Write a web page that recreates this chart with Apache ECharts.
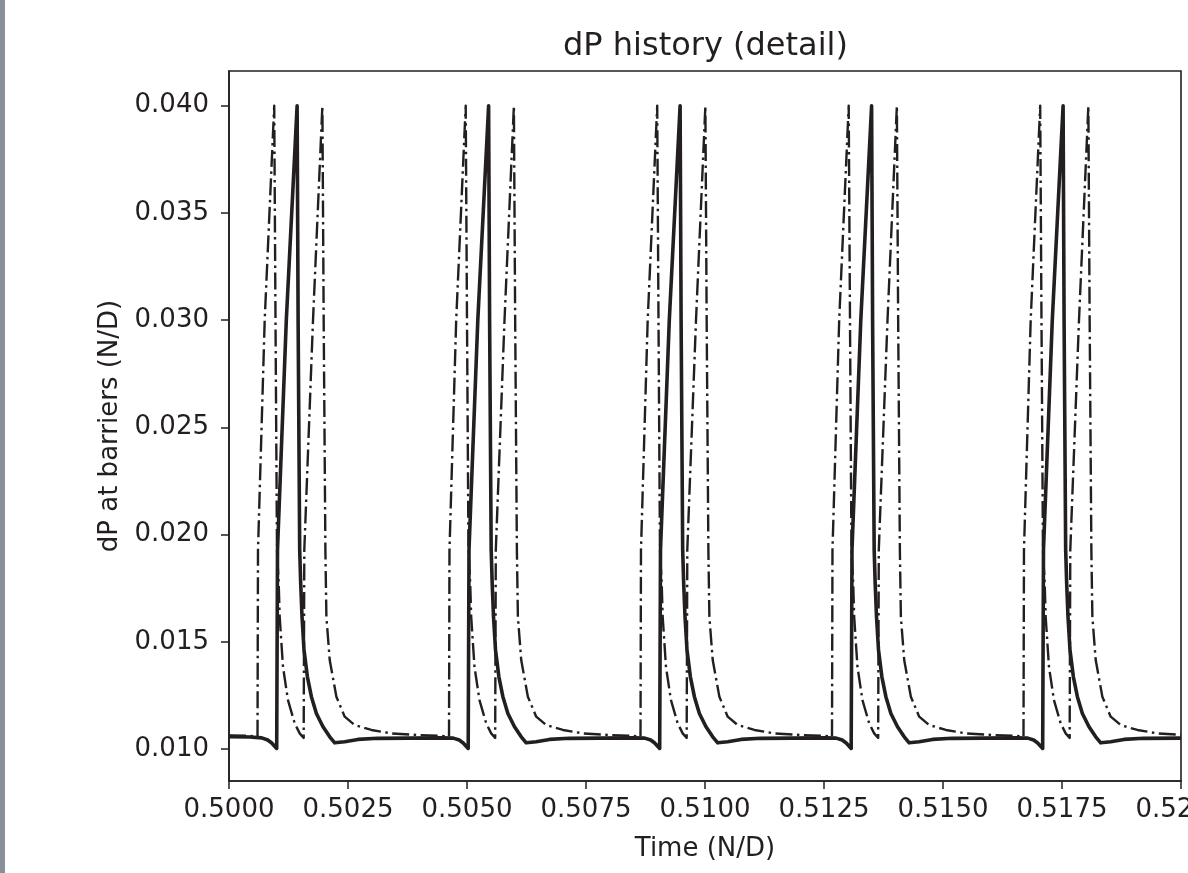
<!DOCTYPE html>
<html>
<head>
<meta charset="utf-8">
<title>dP history (detail)</title>
<script src="https://cdn.jsdelivr.net/npm/echarts@6/dist/echarts.min.js"></script>
<style>
  html, body { margin: 0; padding: 0; background: #fff; }
  #chart { width: 1188px; height: 873px; }
</style>
</head>
<body>
<div id="chart"></div>
<script>
// tick labels
const xTicks = [0.5000, 0.5025, 0.5050, 0.5075, 0.5100, 0.5125, 0.5150, 0.5175, 0.5200];
const yTicks = [0.010, 0.015, 0.020, 0.025, 0.030, 0.035, 0.040];

// solid curve (one line per spike)
const solidTime = [
  0.500000,
  0.500435, 0.500687, 0.500813, 0.500897, 0.501002, 0.501019, 0.501204, 0.501431, 0.501452, 0.501485, 0.501506, 0.501534, 0.501576, 0.501647, 0.501731, 0.501836, 0.501975, 0.502116, 0.502221, 0.502431, 0.502710, 0.503124,
  0.504458, 0.504710, 0.504836, 0.504920, 0.505025, 0.505042, 0.505227, 0.505454, 0.505475, 0.505508, 0.505529, 0.505557, 0.505599, 0.505670, 0.505754, 0.505859, 0.505998, 0.506139, 0.506244, 0.506454, 0.506733, 0.507147,
  0.508481, 0.508733, 0.508859, 0.508943, 0.509048, 0.509065, 0.509250, 0.509477, 0.509498, 0.509531, 0.509552, 0.509580, 0.509622, 0.509693, 0.509777, 0.509882, 0.510021, 0.510162, 0.510267, 0.510477, 0.510756, 0.511170,
  0.512504, 0.512756, 0.512882, 0.512966, 0.513071, 0.513088, 0.513273, 0.513500, 0.513521, 0.513554, 0.513575, 0.513603, 0.513645, 0.513716, 0.513800, 0.513905, 0.514044, 0.514185, 0.514290, 0.514500, 0.514779, 0.515193,
  0.516527, 0.516779, 0.516905, 0.516989, 0.517094, 0.517111, 0.517296, 0.517523, 0.517544, 0.517577, 0.517598, 0.517626, 0.517668, 0.517739, 0.517823, 0.517928, 0.518067, 0.518208, 0.518313, 0.518523, 0.518802, 0.519216,
  0.520000
];
const solidDP = [
  0.01058,
  0.01056, 0.01052, 0.01042, 0.01028, 0.01003, 0.01930, 0.03000, 0.04000, 0.03000, 0.01930, 0.01774, 0.01617, 0.01462, 0.01337, 0.01244, 0.01166, 0.01104, 0.01057, 0.01029, 0.01034, 0.01045, 0.01050,
  0.01052, 0.01051, 0.01042, 0.01028, 0.01003, 0.01930, 0.03000, 0.04000, 0.03000, 0.01930, 0.01774, 0.01617, 0.01462, 0.01337, 0.01244, 0.01166, 0.01104, 0.01057, 0.01029, 0.01034, 0.01045, 0.01050,
  0.01052, 0.01051, 0.01042, 0.01028, 0.01003, 0.01930, 0.03000, 0.04000, 0.03000, 0.01930, 0.01774, 0.01617, 0.01462, 0.01337, 0.01244, 0.01166, 0.01104, 0.01057, 0.01029, 0.01034, 0.01045, 0.01050,
  0.01052, 0.01051, 0.01042, 0.01028, 0.01003, 0.01930, 0.03000, 0.04000, 0.03000, 0.01930, 0.01774, 0.01617, 0.01462, 0.01337, 0.01244, 0.01166, 0.01104, 0.01057, 0.01029, 0.01034, 0.01045, 0.01050,
  0.01052, 0.01051, 0.01042, 0.01028, 0.01003, 0.01930, 0.03000, 0.04000, 0.03000, 0.01930, 0.01774, 0.01617, 0.01462, 0.01337, 0.01244, 0.01166, 0.01104, 0.01057, 0.01029, 0.01034, 0.01045, 0.01050,
  0.01051
];

// dash-dot curve (two spikes per cycle)
const dashTime = [
  0.500000,
  0.500435, 0.500599, 0.500609, 0.500750, 0.500950, 0.500977, 0.501008, 0.501044, 0.501065, 0.501134, 0.501239, 0.501380, 0.501485, 0.501569, 0.501582, 0.501765, 0.501962, 0.501989, 0.502025, 0.502046, 0.502116, 0.502256, 0.502431, 0.502641, 0.502992, 0.503412, 0.504006,
  0.504458, 0.504622, 0.504632, 0.504773, 0.504973, 0.505000, 0.505031, 0.505067, 0.505088, 0.505157, 0.505262, 0.505403, 0.505508, 0.505592, 0.505605, 0.505788, 0.505985, 0.506012, 0.506048, 0.506069, 0.506139, 0.506279, 0.506454, 0.506664, 0.507015, 0.507435, 0.508029,
  0.508481, 0.508645, 0.508655, 0.508796, 0.508996, 0.509023, 0.509054, 0.509090, 0.509111, 0.509180, 0.509285, 0.509426, 0.509531, 0.509615, 0.509628, 0.509811, 0.510008, 0.510035, 0.510071, 0.510092, 0.510162, 0.510302, 0.510477, 0.510687, 0.511038, 0.511458, 0.512052,
  0.512504, 0.512668, 0.512678, 0.512819, 0.513019, 0.513046, 0.513077, 0.513113, 0.513134, 0.513203, 0.513308, 0.513449, 0.513554, 0.513638, 0.513651, 0.513834, 0.514031, 0.514058, 0.514094, 0.514115, 0.514185, 0.514325, 0.514500, 0.514710, 0.515061, 0.515481, 0.516075,
  0.516527, 0.516691, 0.516701, 0.516842, 0.517042, 0.517069, 0.517100, 0.517136, 0.517157, 0.517226, 0.517331, 0.517472, 0.517577, 0.517661, 0.517674, 0.517857, 0.518054, 0.518081, 0.518117, 0.518138, 0.518208, 0.518348, 0.518523, 0.518733, 0.519084, 0.519504,
  0.520000
];
const dashDP = [
  0.01064,
  0.01062, 0.01058, 0.01928, 0.03000, 0.04000, 0.03000, 0.01928, 0.01774, 0.01617, 0.01384, 0.01228, 0.01120, 0.01073, 0.01052, 0.01928, 0.03000, 0.04000, 0.03000, 0.01928, 0.01617, 0.01415, 0.01244, 0.01151, 0.01112, 0.01089, 0.01073, 0.01065,
  0.01062, 0.01058, 0.01928, 0.03000, 0.04000, 0.03000, 0.01928, 0.01774, 0.01617, 0.01384, 0.01228, 0.01120, 0.01073, 0.01052, 0.01928, 0.03000, 0.04000, 0.03000, 0.01928, 0.01617, 0.01415, 0.01244, 0.01151, 0.01112, 0.01089, 0.01073, 0.01065,
  0.01062, 0.01058, 0.01928, 0.03000, 0.04000, 0.03000, 0.01928, 0.01774, 0.01617, 0.01384, 0.01228, 0.01120, 0.01073, 0.01052, 0.01928, 0.03000, 0.04000, 0.03000, 0.01928, 0.01617, 0.01415, 0.01244, 0.01151, 0.01112, 0.01089, 0.01073, 0.01065,
  0.01062, 0.01058, 0.01928, 0.03000, 0.04000, 0.03000, 0.01928, 0.01774, 0.01617, 0.01384, 0.01228, 0.01120, 0.01073, 0.01052, 0.01928, 0.03000, 0.04000, 0.03000, 0.01928, 0.01617, 0.01415, 0.01244, 0.01151, 0.01112, 0.01089, 0.01073, 0.01065,
  0.01062, 0.01058, 0.01928, 0.03000, 0.04000, 0.03000, 0.01928, 0.01774, 0.01617, 0.01384, 0.01228, 0.01120, 0.01073, 0.01052, 0.01928, 0.03000, 0.04000, 0.03000, 0.01928, 0.01617, 0.01415, 0.01244, 0.01151, 0.01112, 0.01089, 0.01073,
  0.01066
];

const ink = '#231f20';
const font = 'DejaVu Sans';

const chart = echarts.init(document.getElementById('chart'));

const option = {
  animation: false,
  backgroundColor: '#fff',
  textStyle: { fontFamily: font, color: ink },
  title: {
    text: 'dP history (detail)',
    left: 558,
    top: 26,
    textStyle: { fontFamily: font, fontSize: 32, fontWeight: 'normal', color: ink }
  },
  // grey strip on the left edge
  graphic: [{
    type: 'rect',
    shape: { x: 0, y: 0, width: 5, height: 873 },
    style: { fill: '#8a909a' },
    silent: true
  }],
  grid: {
    left: 229,
    right: 7,
    top: 71,
    bottom: 92,
    show: true,
    borderColor: ink,
    borderWidth: 1.6,
    backgroundColor: 'transparent',
    outerBoundsMode: 'none'
  },
  xAxis: {
    type: 'value',
    min: 0.5,
    max: 0.52,
    name: 'Time (N/D)',
    nameLocation: 'middle',
    nameGap: 55,
    nameTextStyle: { fontFamily: font, fontSize: 26, color: ink },
    axisLine: { show: true, onZero: false, lineStyle: { color: ink, width: 1.6 } },
    axisTick: { show: true, length: 8, inside: false, customValues: xTicks, lineStyle: { color: ink, width: 1.5 } },
    axisLabel: {
      customValues: xTicks,
      margin: 16,
      fontFamily: font,
      fontSize: 26,
      color: ink,
      formatter: v => v.toFixed(4)
    },
    splitLine: { show: false }
  },
  yAxis: {
    type: 'value',
    min: 0.00851,
    max: 0.04162,
    name: 'dP at barriers (N/D)',
    nameLocation: 'middle',
    nameGap: 92,
    nameRotate: 90,
    nameTextStyle: { fontFamily: font, fontSize: 26, color: ink },
    axisLine: { show: true, onZero: false, lineStyle: { color: ink, width: 1.6 } },
    axisTick: { show: true, length: 8, inside: false, customValues: yTicks, lineStyle: { color: ink, width: 1.5 } },
    axisLabel: {
      customValues: yTicks,
      margin: 20,
      fontFamily: font,
      fontSize: 26,
      color: ink,
      formatter: v => v.toFixed(3)
    },
    splitLine: { show: false }
  },
  series: [
    {
      name: 'dash-dot',
      type: 'line',
      showSymbol: false,
      symbol: 'none',
      data: dashTime.map((t, i) => [t, dashDP[i]]),
      lineStyle: { color: ink, width: 2.4, type: [17, 4.5, 2.5, 4.5], cap: 'butt', join: 'round' },
      z: 2
    },
    {
      name: 'solid',
      type: 'line',
      showSymbol: false,
      symbol: 'none',
      data: solidTime.map((t, i) => [t, solidDP[i]]),
      lineStyle: { color: ink, width: 3.6, cap: 'butt', join: 'round' },
      z: 3
    }
  ]
};

chart.setOption(option);
</script>
</body>
</html>
